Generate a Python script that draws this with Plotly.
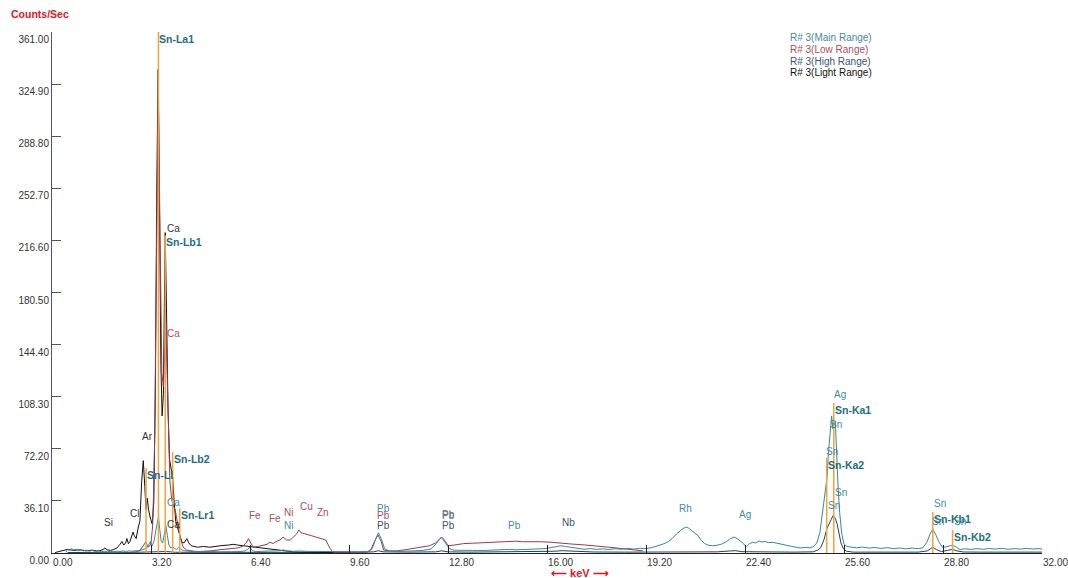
import plotly.graph_objects as go

FONT = "Liberation Sans, Arial, sans-serif"

# ---- spectra (energy in keV, intensity in counts/sec) ----
light_kev = [0.10, 0.30, 0.50, 0.70, 0.90, 1.10, 1.30, 1.45, 1.55, 1.65, 1.71, 1.78, 1.90, 2.00,
             2.10, 2.20, 2.26, 2.32, 2.38, 2.42, 2.47, 2.52, 2.58, 2.62, 2.66, 2.72, 2.79, 2.84,
             2.90, 2.95, 3.00, 3.04, 3.08, 3.12, 3.17, 3.24, 3.29, 3.34, 3.39, 3.43, 3.47, 3.52,
             3.56, 3.60, 3.63, 3.66, 3.70, 3.75, 3.80, 3.86, 3.90, 3.95, 4.00, 4.05, 4.10, 4.14,
             4.20, 4.27, 4.36, 4.42, 4.50, 4.70, 4.90, 5.10, 5.30, 5.50, 5.70, 5.86, 6.00, 6.20,
             6.40, 6.60, 6.80, 7.00, 7.20, 7.40, 7.60, 7.80, 8.00, 8.50, 9.00, 9.60]
light_cps = [0.3, 1.5, 2.5, 1.8, 2.2, 1.5, 2.0, 1.4, 1.6, 2.4, 3.5, 2.2, 1.8, 2.5,
             3.5, 6.0, 8.0, 5.5, 7.0, 10.0, 6.5, 8.0, 11.5, 14.5, 12.0, 10.0, 18.0, 22.0,
             50.0, 64.0, 46.0, 30.0, 38.0, 30.0, 25.0, 20.0, 35.0, 110.0, 260.0, 335.0, 250.0, 130.0,
             95.0, 110.0, 170.0, 222.0, 170.0, 100.0, 65.0, 55.0, 52.0, 35.0, 22.0, 18.0, 14.0, 11.0,
             7.5, 7.0, 10.0, 7.0, 5.0, 4.0, 4.5, 4.0, 4.8, 5.2, 5.5, 6.0, 5.5, 5.0,
             4.5, 4.0, 3.0, 2.8, 2.3, 1.8, 1.2, 0.8, 0.6, 0.4, 0.3, 0.3]

low_kev = [2.50, 2.70, 2.85, 2.95, 3.03, 3.10, 3.16, 3.20, 3.25, 3.28, 3.32, 3.37, 3.41, 3.44,
           3.47, 3.51, 3.55, 3.60, 3.64, 3.68, 3.72, 3.76, 3.81, 3.87, 3.93, 3.98, 4.05, 4.10,
           4.14, 4.20, 4.24, 4.35, 4.46, 4.60, 4.80, 5.00, 5.20, 5.40, 5.60, 5.86, 6.00, 6.15,
           6.28, 6.35, 6.42, 6.50, 6.65, 6.80, 6.95, 7.05, 7.15, 7.25, 7.37, 7.47, 7.58, 7.70,
           7.80, 7.90, 7.98, 8.05, 8.15, 8.30, 8.45, 8.55, 8.70, 8.85, 8.92, 8.98, 9.08, 9.30,
           9.60, 9.90, 10.20, 10.30, 10.42, 10.54, 10.64, 10.72, 10.90, 11.15, 11.40, 11.67, 11.90, 12.20,
           12.40, 12.60, 12.72, 12.80, 13.00, 13.30, 13.60, 13.90, 14.20, 14.40, 14.70, 15.00, 15.20, 15.45,
           15.80, 16.10, 16.50, 16.80, 17.20, 17.60, 18.00, 18.45, 18.80, 19.10]
low_cps = [0.3, 0.8, 2.0, 5.0, 7.6, 4.0, 5.0, 7.0, 18.0, 39.0, 80.0, 190.0, 290.0, 320.0,
           260.0, 170.0, 125.0, 115.0, 140.0, 160.0, 125.0, 85.0, 50.0, 37.0, 32.0, 30.0, 23.0, 16.0,
           11.0, 6.0, 4.0, 2.0, 1.5, 1.2, 1.0, 1.2, 1.6, 2.2, 2.8, 3.5, 3.5, 4.5,
           7.0, 10.0, 7.0, 4.0, 4.5, 5.5, 6.0, 7.5, 6.5, 8.0, 9.0, 11.0, 9.0, 9.0,
           11.0, 13.0, 16.0, 14.0, 13.5, 12.5, 11.5, 11.0, 10.0, 9.0, 6.0, 3.5, 0.5, 0.4,
           0.5, 0.4, 0.6, 2.0, 8.0, 12.5, 8.0, 2.0, 1.5, 1.5, 2.2, 3.0, 4.0, 5.0,
           7.0, 11.0, 8.0, 5.0, 5.5, 6.5, 6.8, 7.2, 7.5, 7.6, 7.8, 8.2, 7.8, 8.0,
           7.8, 7.5, 7.0, 6.2, 5.6, 5.0, 4.0, 3.0, 2.3, 1.5]

main_kev = [0.45, 0.50, 0.56, 0.62, 0.70, 0.78, 0.86, 0.94, 1.02, 1.10, 1.20, 1.30, 1.40, 1.50,
            1.60, 1.70, 1.80, 1.90, 2.00, 2.10, 2.20, 2.30, 2.40, 2.50, 2.60, 2.70, 2.80, 2.90,
            2.98, 3.05, 3.12, 3.18, 3.24, 3.30, 3.36, 3.41, 3.44, 3.48, 3.53, 3.58, 3.63, 3.68,
            3.73, 3.78, 3.84, 3.90, 3.96, 4.03, 4.10, 4.17, 4.25, 4.40, 4.60, 4.80, 5.00, 5.20,
            5.40, 5.60, 5.80, 6.00, 6.20, 6.32, 6.40, 6.48, 6.60, 6.80, 7.00, 7.20, 7.40, 7.48,
            7.56, 7.80, 8.00, 8.30, 8.60, 8.90, 9.20, 9.60, 9.90, 10.20, 10.35, 10.45, 10.55, 10.65,
            10.75, 10.90, 11.20, 11.60, 12.00, 12.25, 12.42, 12.58, 12.72, 12.85, 13.00, 13.30, 13.60, 13.90,
            14.20, 14.50, 14.80, 15.00, 15.30, 15.60, 15.90, 16.10, 16.30, 16.45, 16.60, 16.80, 17.00, 17.20,
            17.40, 17.60, 17.80, 18.00, 18.20, 18.40, 18.60, 18.80, 19.00, 19.20, 19.40, 19.60, 19.75, 19.90,
            20.05, 20.20, 20.30, 20.40, 20.50, 20.58, 20.68, 20.78, 20.88, 21.00, 21.10, 21.20, 21.35, 21.50,
            21.65, 21.80, 21.93, 22.05, 22.15, 22.25, 22.35, 22.44, 22.55, 22.65, 22.75, 22.85, 22.95, 23.05,
            23.15, 23.30, 23.45, 23.60, 23.75, 23.90, 24.05, 24.20, 24.35, 24.50, 24.62, 24.72, 24.82, 24.90,
            24.97, 25.05, 25.10, 25.15, 25.20, 25.24, 25.28, 25.32, 25.36, 25.41, 25.46, 25.53, 25.60, 25.70,
            25.85, 26.00, 26.20, 26.40, 26.60, 26.80, 27.00, 27.20, 27.40, 27.60, 27.80, 28.00, 28.15, 28.28,
            28.38, 28.47, 28.56, 28.66, 28.78, 28.90, 29.02, 29.12, 29.22, 29.35, 29.50, 29.70, 29.90, 30.10,
            30.30, 30.50, 30.70, 30.90, 31.10, 31.30, 31.50, 31.70, 31.90, 32.00]
main_cps = [0.4, 2.6, 1.8, 3.0, 2.2, 2.7, 1.6, 2.4, 1.5, 2.0, 1.3, 1.8, 1.1, 1.5,
            0.9, 1.3, 0.8, 1.2, 0.9, 1.3, 1.0, 1.4, 1.1, 1.5, 1.2, 1.6, 1.4, 2.0,
            2.6, 3.2, 5.5, 8.0, 5.0, 8.5, 16.0, 23.0, 25.0, 17.0, 8.0, 7.0, 12.0, 19.0,
            12.0, 5.5, 3.5, 4.5, 3.0, 2.5, 3.8, 2.4, 1.6, 1.2, 0.9, 1.1, 0.8, 1.0,
            0.8, 1.1, 0.9, 1.0, 1.2, 2.5, 4.0, 1.5, 1.0, 1.2, 1.4, 1.3, 1.6, 2.2,
            1.5, 1.2, 1.4, 1.1, 1.0, 0.9, 0.8, 0.8, 0.9, 1.0, 3.0, 9.0, 14.0, 9.5,
            3.0, 1.3, 1.1, 1.4, 1.8, 2.8, 6.5, 11.0, 7.0, 3.0, 1.9, 1.6, 1.8, 1.7,
            2.0, 2.1, 2.5, 2.2, 2.4, 2.6, 3.0, 3.6, 4.6, 5.0, 4.5, 3.8, 3.0, 2.6,
            3.1, 2.5, 2.9, 2.4, 3.0, 2.6, 3.2, 2.7, 3.3, 3.0, 3.8, 5.0, 6.2, 7.6,
            10.0, 13.5, 15.5, 17.0, 18.0, 17.2, 15.5, 13.5, 12.0, 8.5, 6.5, 5.5, 5.0, 5.4,
            6.2, 7.8, 10.0, 11.0, 10.0, 8.2, 6.5, 4.2, 6.5, 7.4, 7.0, 8.3, 7.6, 8.0,
            7.2, 7.4, 6.6, 6.2, 5.2, 4.6, 4.0, 3.5, 3.9, 3.6, 4.5, 7.0, 14.0, 26.0,
            38.0, 52.0, 70.0, 84.0, 95.0, 86.0, 90.0, 91.0, 68.0, 45.0, 28.0, 13.0, 6.0, 4.5,
            4.0, 3.6, 4.1, 3.4, 3.8, 3.2, 3.7, 3.0, 3.5, 2.9, 3.4, 3.0, 3.6, 7.5,
            13.0, 16.6, 13.0, 8.0, 4.0, 4.2, 5.0, 5.2, 4.2, 2.4, 2.9, 2.5, 3.0, 2.6,
            3.1, 2.7, 3.2, 2.6, 3.0, 2.7, 3.2, 2.8, 3.0, 2.8]

high_kev = [0.5, 1.0, 1.5, 2.0, 2.5, 3.0, 3.4, 3.7, 4.0, 5.0, 6.0, 7.0, 8.0, 9.0,
            10.0, 10.4, 10.55, 10.7, 11.5, 12.4, 12.6, 12.8, 13.5, 14.5, 15.5, 16.2, 16.5, 16.8,
            17.5, 18.5, 19.5, 20.5, 21.5, 21.9, 22.1, 22.3, 23.0, 24.0, 24.6, 24.75, 24.85, 24.95,
            25.05, 25.12, 25.18, 25.25, 25.32, 25.38, 25.44, 25.5, 25.58, 25.68, 25.9, 26.5, 27.0, 27.5,
            28.0, 28.3, 28.47, 28.6, 28.75, 28.95, 29.1, 29.25, 29.45, 30.0, 30.5, 31.0, 31.5, 32.0]
high_cps = [0.3, 0.5, 0.4, 0.5, 0.4, 0.6, 1.2, 1.0, 0.5, 0.4, 0.5, 0.4, 0.5, 0.4,
            0.5, 0.8, 1.6, 0.8, 0.6, 0.8, 1.5, 0.8, 0.6, 0.7, 0.8, 1.2, 1.6, 1.2,
            0.7, 0.6, 0.7, 1.0, 0.8, 1.4, 1.6, 0.9, 0.7, 0.6, 0.8, 2.0, 3.8, 9.0,
            17.0, 21.0, 23.0, 26.0, 24.0, 20.0, 13.0, 7.0, 3.0, 1.2, 0.6, 0.5, 0.6, 0.5,
            0.6, 1.5, 4.0, 2.2, 1.0, 1.8, 2.5, 1.5, 0.7, 0.6, 0.5, 0.6, 0.5, 0.6]

# ---- Sn reference lines ----
sn_line_names = ["Sn-Ll", "Sn-La1", "Sn-Lb1", "Sn-Lb2", "Sn-Lr1", "Sn-Ka2", "Sn-Ka1", "Sn-Kb1", "Sn-Kb2"]
sn_line_kev = [3.04, 3.44, 3.66, 3.90, 4.13, 25.04, 25.27, 28.47, 29.11]
sn_line_cps = [59.0, 361.0, 220.0, 70.0, 31.0, 66.0, 104.0, 28.4, 16.0]

# ---- element identification labels ----
peak_label_text = ["Si", "Cl", "Ar", "Ca", "Ca", "Ca", "Ca", "Fe", "Fe", "Ni", "Ni", "Cu", "Zn",
                   "Pb", "Pb", "Pb", "Pb", "Pb", "Pb", "Pb", "Nb", "Rh", "Ag", "Ag",
                   "Sn", "Sn", "Sn", "Sn", "Sn", "Sn", "Sn"]
peak_label_kev = [1.84, 2.68, 3.10, 3.94, 3.94, 3.94, 3.94, 6.56, 7.21, 7.63, 7.63, 8.24, 8.76,
                  10.73, 10.73, 10.73, 12.80, 12.80, 12.80, 14.96, 16.68, 20.49, 22.40, 25.47,
                  25.34, 25.21, 25.50, 25.27, 28.70, 28.64, 29.35]
peak_label_cps = [20.8, 27.7, 81.0, 225.0, 152.0, 35.0, 20.0, 26.0, 24.0, 28.0, 19.0, 32.0, 28.0,
                  30.5, 26.0, 19.0, 27.0, 26.0, 19.0, 19.0, 21.0, 31.0, 27.0, 110.0,
                  89.0, 70.0, 41.6, 33.0, 34.6, 22.0, 22.0]
peak_label_range = ["Light", "Light", "Light", "Light", "Low", "Main", "Light", "Low", "Low", "Low", "Main", "Low", "Low",
                    "Main", "Low", "High", "Low", "Main", "High", "Main", "High", "Main", "Main", "Main",
                    "Main", "Main", "Main", "Main", "Main", "Main", "Main"]

x_ticks = [0.00, 3.20, 6.40, 9.60, 12.80, 16.00, 19.20, 22.40, 25.60, 28.80, 32.00]
y_ticks = [0.00, 36.10, 72.20, 108.30, 144.40, 180.50, 216.60, 252.70, 288.80, 324.90, 361.00]

range_names = ["Main", "Low", "High", "Light"]
range_colors = {"Main": "#35899a", "Low": "#9b3a50", "High": "#243f5e", "Light": "#111111"}
label_colors = {"Main": "#3f8d9d", "Low": "#ad4c62", "High": "#3a5570", "Light": "#333333"}
SN_COLOR = "#f4a23a"
SN_TEXT = "#1c6f80"

fig = go.Figure()

series = {
    "High": (high_kev, high_cps),
    "Light": (light_kev, light_cps),
    "Low": (low_kev, low_cps),
    "Main": (main_kev, main_cps),
}
for name, (kx, ky) in series.items():
    fig.add_trace(go.Scatter(x=kx, y=ky, mode="lines", name=f"R# 3({name} Range)",
                             line=dict(color=range_colors[name], width=1),
                             hoverinfo="skip", showlegend=False))

# vertical Sn marker lines
lx, ly = [], []
for k, c in zip(sn_line_kev, sn_line_cps):
    lx += [k, k, None]
    ly += [0, c, None]
fig.add_trace(go.Scatter(x=lx, y=ly, mode="lines", line=dict(color=SN_COLOR, width=1.5),
                         hoverinfo="skip", showlegend=False))

annotations = []
for name, k, c in zip(sn_line_names, sn_line_kev, sn_line_cps):
    annotations.append(dict(x=k, y=c, xref="x", yref="y", text=f"<b>{name}</b>", showarrow=False,
                            xanchor="left", yanchor="top", xshift=-1, yshift=1,
                            font=dict(family=FONT, size=10.5, color=SN_TEXT)))

for t, k, c, r in zip(peak_label_text, peak_label_kev, peak_label_cps, peak_label_range):
    annotations.append(dict(x=k, y=c, xref="x", yref="y", text=t, showarrow=False,
                            xanchor="center", yanchor="middle",
                            font=dict(family=FONT, size=10, color=label_colors[r])))

# range legend as coloured text, top right
for i, name in enumerate(range_names):
    annotations.append(dict(x=(788 - 52) / 990, y=(553 - 37 - 12 * i) / 521, xref="paper", yref="paper",
                            text=f"R# 3({name} Range)", showarrow=False, xanchor="left", yanchor="middle",
                            font=dict(family=FONT, size=10, color=label_colors[name] if name != "Light" else "#111111")))

# energy axis caption
annotations.append(dict(x=17.07, y=0, xref="x", yref="paper", text="<b>⟵ keV ⟶</b>", showarrow=False,
                        xanchor="center", yanchor="top", yshift=-12,
                        font=dict(family=FONT, size=11, color="#e8141b")))

fig.update_layout(
    width=1068, height=578,
    margin=dict(l=52, r=26, t=32, b=25),
    paper_bgcolor="white", plot_bgcolor="white",
    title=dict(text="<b>Counts/Sec</b>", x=11 / 1068, y=1 - 14 / 578, xanchor="left", yanchor="middle",
               xref="container", yref="container", automargin=False,
               font=dict(family=FONT, size=10.5, color="#e8141b")),
    annotations=annotations,
    showlegend=False,
    xaxis=dict(range=[0, 32], tickvals=x_ticks, ticktext=[f"{v:.2f}" for v in x_ticks],
               showgrid=False, zeroline=False, showline=True, linecolor="#222222", linewidth=1,
               ticks="inside", ticklen=8, tickcolor="#222222", ticklabelposition="outside right",
               ticklabeloverflow="allow", automargin=False,
               tickfont=dict(family=FONT, size=10, color="#333333"), fixedrange=True),
    yaxis=dict(range=[0, 361], tickvals=y_ticks, ticktext=[f"{v:.2f}" for v in y_ticks],
               showgrid=False, zeroline=False, showline=True, linecolor="#555555", linewidth=1,
               ticks="inside", ticklen=9, tickcolor="#555555", ticklabelposition="outside bottom",
               ticklabeloverflow="allow", automargin=False,
               tickfont=dict(family=FONT, size=10, color="#333333"), fixedrange=True),
)

fig.write_html("out.html")
